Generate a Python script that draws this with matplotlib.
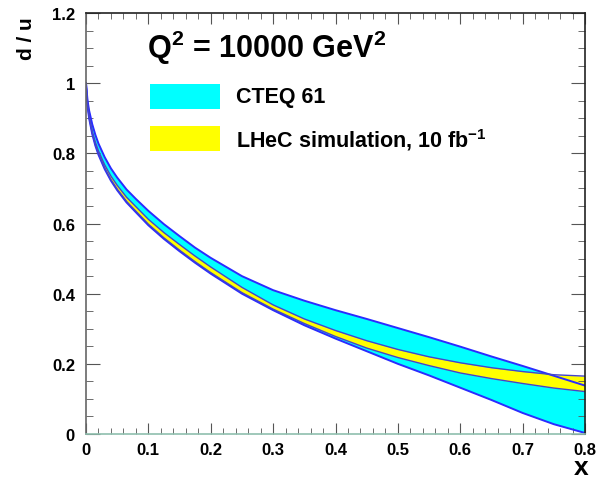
import matplotlib
matplotlib.use("Agg")
import matplotlib.pyplot as plt
from matplotlib.patches import Rectangle
from matplotlib.ticker import MultipleLocator

plt.rcParams['font.family'] = ['Liberation Sans', 'DejaVu Sans']
plt.rcParams['font.weight'] = 'bold'
plt.rcParams['mathtext.fontset'] = 'custom'
plt.rcParams['mathtext.rm'] = 'Liberation Sans:bold'
plt.rcParams['mathtext.bf'] = 'Liberation Sans:bold'

# values
x = [0.0, 0.0025, 0.005, 0.01, 0.015, 0.02, 0.03, 0.04, 0.05, 0.065, 0.08, 0.1,
     0.125, 0.15, 0.175, 0.2, 0.25, 0.3, 0.35, 0.4, 0.45, 0.5, 0.55, 0.6,
     0.65, 0.7, 0.75, 0.8]
cteq_hi = [1.0, 0.95, 0.922, 0.883, 0.853, 0.828, 0.789, 0.757, 0.731, 0.697, 0.670, 0.636,
           0.598, 0.564, 0.531, 0.502, 0.45, 0.41, 0.38, 0.353, 0.328, 0.302, 0.276, 0.249,
           0.221, 0.194, 0.166, 0.138]
cteq_lo = [1.0, 0.935, 0.90, 0.855, 0.822, 0.796, 0.755, 0.722, 0.695, 0.66, 0.632, 0.595,
           0.556, 0.521, 0.488, 0.457, 0.40, 0.353, 0.31, 0.272, 0.236, 0.20, 0.167, 0.132,
           0.097, 0.06, 0.028, 0.003]
lhec_hi = [1.0, 0.94, 0.906, 0.863, 0.832, 0.807, 0.767, 0.735, 0.709, 0.675, 0.648, 0.612,
           0.574, 0.54, 0.507, 0.476, 0.418, 0.368, 0.328, 0.295, 0.266, 0.241, 0.22, 0.203,
           0.189, 0.178, 0.169, 0.165]
lhec_lo = [1.0, 0.937, 0.903, 0.858, 0.825, 0.799, 0.758, 0.725, 0.698, 0.663, 0.635, 0.598,
           0.559, 0.524, 0.491, 0.46, 0.403, 0.356, 0.315, 0.278, 0.245, 0.218, 0.195, 0.174,
           0.158, 0.144, 0.131, 0.121]

fig = plt.figure(figsize=(5.98, 4.81), dpi=100)
ax = fig.add_axes([0.1438, 0.0956, 0.8345, 0.8753])

ax.fill_between(x, cteq_lo, cteq_hi, color='#00ffff', lw=0)
ax.fill_between(x, lhec_lo, lhec_hi, color='#ffff00', lw=0)
ax.plot(x, cteq_hi, color='#2b2bff', lw=1.4)
ax.plot(x, cteq_lo, color='#2b2bff', lw=1.4)
ax.plot(x, lhec_hi, color='#4444cc', lw=1.0)
ax.plot(x, lhec_lo, color='#4444cc', lw=1.0)

ax.set_xlim(0, 0.8)
ax.set_ylim(0, 1.2)
ax.xaxis.set_minor_locator(MultipleLocator(0.02))
ax.yaxis.set_minor_locator(MultipleLocator(0.05))
ax.set_xticks([0, 0.1, 0.2, 0.3, 0.4, 0.5, 0.6, 0.7, 0.8])
ax.set_xticklabels(['0', '0.1', '0.2', '0.3', '0.4', '0.5', '0.6', '0.7', '0.8'])
ax.set_yticks([0, 0.2, 0.4, 0.6, 0.8, 1.0, 1.2])
ax.set_yticklabels(['0', '0.2', '0.4', '0.6', '0.8', '1', '1.2'])
ax.tick_params(which='both', direction='in', top=True, right=True,
               labelsize=12, color='#555555')
ax.tick_params(axis='x', which='major', length=8, pad=6)
ax.tick_params(axis='x', which='minor', length=4)
ax.tick_params(axis='y', which='major', length=10, pad=8)
ax.tick_params(axis='y', which='minor', length=5)
for lab in ax.get_xticklabels() + ax.get_yticklabels():
    lab.set_fontweight('bold')

ax.spines['bottom'].set_color('#8fbfae')
ax.spines['left'].set_color('#666666')
ax.spines['top'].set_color('#222222')
ax.spines['right'].set_color('#222222')
for s in ax.spines.values():
    s.set_linewidth(1.2)

fig.text(0.045, 0.965, 'd / u', rotation=90, ha='center', va='top',
         fontsize=15, fontweight='bold')
fig.text(0.972, 0.012, 'x', ha='center', va='baseline', fontsize=19, fontweight='bold')

fig.text(0.245, 0.90, r'Q$^{2}$ = 10000 GeV$^{2}$', ha='left', va='center',
         fontsize=22, fontweight='bold')

# legend boxes
fig.patches.append(Rectangle((0.251, 0.771), 0.117, 0.052, transform=fig.transFigure,
                             facecolor='#00ffff', edgecolor='none'))
fig.patches.append(Rectangle((0.251, 0.683), 0.117, 0.052, transform=fig.transFigure,
                             facecolor='#ffff00', edgecolor='none'))
fig.text(0.395, 0.797, 'CTEQ 61', ha='left', va='center', fontsize=15.5, fontweight='bold')
fig.text(0.395, 0.709, r'LHeC simulation, 10 fb$^{-1}$', ha='left', va='center',
         fontsize=15.5, fontweight='bold')

fig.savefig('out.png', dpi=100)
